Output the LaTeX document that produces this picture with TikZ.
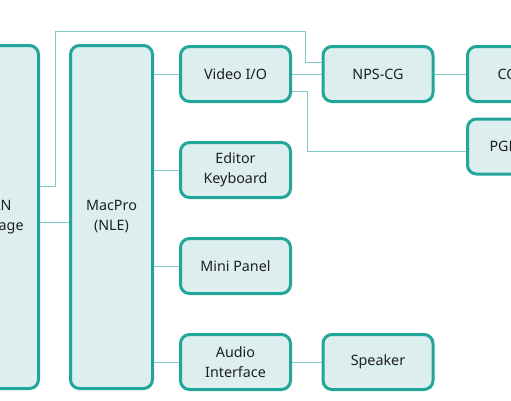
\documentclass[tikz,border=0pt]{standalone}
\usepackage{fontspec}
\setmainfont{Noto Sans}
\usepackage{tikz}
\definecolor{Teal}{HTML}{22A699}
\definecolor{Mint}{HTML}{DCEEEE}
\definecolor{Wire}{HTML}{7CCBC6}

\begin{document}
\begin{tikzpicture}[x=1pt, y=-1pt, font=\fontsize{14.3}{20}\selectfont,
        unit/.style={draw=Teal, fill=Mint, line width=3pt, rounded corners=9pt, align=center, inner sep=0pt, text=black!88},
        small/.style={unit, minimum width=110pt, minimum height=55pt},
        wire/.style={draw=Wire, line width=1pt}]
            \useasboundingbox (0, 0) rectangle (511, 400);
            \clip (0, 0) rectangle (511, 400);
            % tall units
            \node[unit, minimum width=82pt, minimum height=343pt] (san) at (-2.5, 217) {SAN\\Storage};
            \node[unit, minimum width=82pt, minimum height=343pt] (mac) at (111.5, 217) {MacPro\\(NLE)};
            % column next to the MacPro
            \node[small] (vio) at (235.5, 74) {Video I/O};
            \node[small] (kbd) at (235.5, 170) {Editor\\Keyboard};
            \node[small] (mini) at (235.5, 266) {Mini Panel};
            \node[small] (aud) at (235.5, 362) {Audio\\Interface};
            % outputs
            \node[small] (nps) at (378, 74) {NPS-CG};
            \node[small, text width=50pt, inner xsep=29pt, align=left] (cg) at (522.5, 74) {CG};
            \node[small, text width=66pt, inner xsep=22pt, align=left] (pgm) at (522.5, 146.5) {PGM};
            \node[small] (spk) at (378, 362) {Speaker};
            % connections
            \draw[wire] ([yshift=-5pt]san.east) -- ([yshift=-5pt]mac.west);
            \draw[wire] ([yshift=31pt]san.east) -- ++(15, 0) |- (305, 31) |- ([yshift=12pt]nps.west);
            \foreach \n in {vio, kbd, mini, aud} {
                \draw[wire] (mac.east |- \n.west) -- (\n.west);
            }
            \draw[wire] (vio) -- (nps) -- (cg);
            \draw[wire] ([yshift=-17pt]vio.east) -| (307, 151) -- ([yshift=-4.5pt]pgm.west);
            \draw[wire] (aud) -- (spk);
        \end{tikzpicture}
\end{document}
